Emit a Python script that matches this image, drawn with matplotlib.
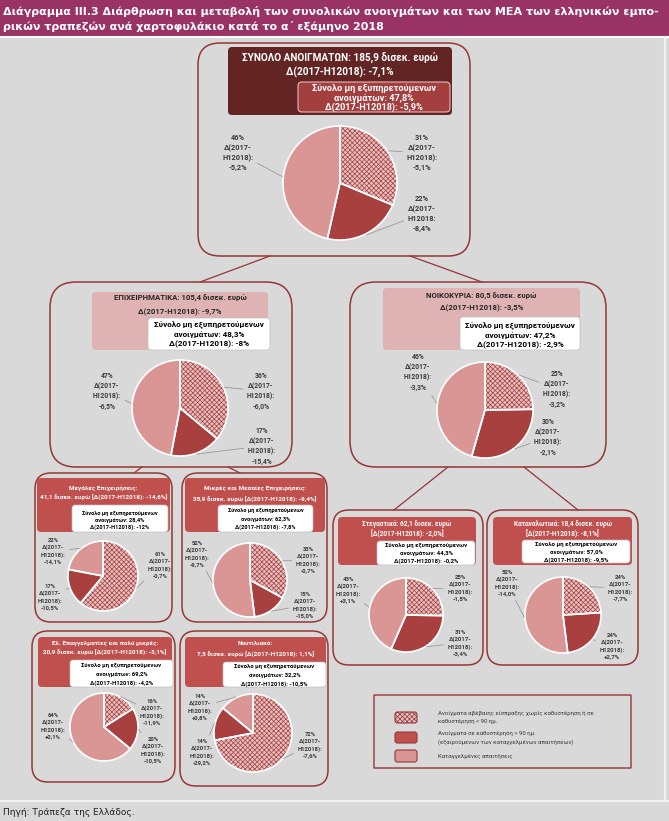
import matplotlib.pyplot as plt
from matplotlib.patches import FancyBboxPatch, Rectangle
import numpy as np

plt.rcParams['font.family'] = ['Roboto', 'DejaVu Sans']
plt.rcParams['hatch.linewidth'] = 0.5

W, H = 669, 821

# ---- data ----
pie_names = ['Σύνολο', 'Επιχειρηματικά', 'Νοικοκυριά', 'Μεγάλες', 'ΜΜΕ',
             'Στεγαστικά', 'Καταναλωτικά', 'Ελ. Επαγγελματίες', 'Ναυτιλιακό']
share_unlikely = [31, 36, 25, 61, 33, 25, 24, 16, 72]   # hatched
share_past_due = [22, 17, 30, 17, 15, 31, 24, 20, 14]   # dark red
share_denounced = [46, 47, 46, 22, 52, 43, 52, 64, 14]  # light pink
chg_unlikely = ['-5,1%', '-6,0%', '-3,2%', '-0,7%', '-0,7%', '-1,5%', '-7,7%', '-11,9%', '-7,6%']
chg_past_due = ['-8,4%', '-15,4%', '-2,1%', '-10,5%', '-15,0%', '-3,4%', '+2,7%', '-10,5%', '-29,2%']
chg_denounced = ['-5,2%', '-6,5%', '-3,3%', '-14,1%', '-9,7%', '+3,1%', '-14,0%', '+0,1%', '+0,8%']

header_lines = [
    ['ΣΥΝΟΛΟ ΑΝΟΙΓΜΑΤΩΝ: 185,9 δισεκ. ευρώ', 'Δ(2017-H12018): -7,1%'],
    ['ΕΠΙΧΕΙΡΗΜΑΤΙΚΑ: 105,4 δισεκ. ευρώ', 'Δ(2017-H12018): -9,7%'],
    ['ΝΟΙΚΟΚΥΡΙΑ: 80,5 δισεκ. ευρώ', 'Δ(2017-H12018): -3,5%'],
    ['Μεγάλες Επιχειρήσεις:', '41,1 δισεκ. ευρώ [Δ(2017-H12018): -14,6%]'],
    ['Μικρές και Μεσαίες Επιχειρήσεις:', '35,9 δισεκ. ευρώ [Δ(2017-H12018): -9,4%]'],
    ['Στεγαστικά: 62,1 δισεκ. ευρώ', '[Δ(2017-H12018): -2,0%]'],
    ['Καταναλωτικά: 18,4 δισεκ. ευρώ', '[Δ(2017-H12018): -8,1%]'],
    ['Ελ. Επαγγελματίες και πολύ μικρές:', '20,9 δισεκ. ευρώ [Δ(2017-H12018): -3,1%]'],
    ['Ναυτιλιακό:', '7,5 δισεκ. ευρώ [Δ(2017-H12018): 1,1%]'],
]
npe_share = ['47,8%', '48,3%', '47,2%', '28,4%', '62,3%', '44,3%', '57,0%', '69,2%', '32,2%']
npe_change = ['-5,9%', '-8%', '-2,9%', '-12%', '-7,8%', '-0,2%', '-9,5%', '-4,2%', '-10,5%']

legend_labels = ['Ανοίγματα αβέβαιης είσπραξης χωρίς καθυστέρηση ή σε\nκαθυστέρηση < 90 ημ.',
                 'Ανοίγματα σε καθυστέρηση > 90 ημ.\n(εξαιρούμενων των καταγγελμένων απαιτήσεων)',
                 'Καταγγελμένες απαιτήσεις']

# ---- layout (pixels, y from top) ----
outer_box = [(198, 43, 470, 256), (50, 282, 292, 467), (350, 282, 606, 467),
             (35, 473, 172, 622), (182, 473, 327, 622), (333, 510, 483, 665),
             (487, 510, 638, 665), (32, 631, 175, 782), (180, 631, 328, 786)]
head_box = [(228, 47, 452, 115), (92, 292, 268, 350), (383, 288, 580, 350),
            (37, 478, 170, 532), (185, 478, 325, 532), (338, 517, 476, 565),
            (493, 517, 632, 565), (38, 637, 172, 687), (185, 637, 326, 687)]
inner_box = [(298, 82, 450, 112), (148, 318, 270, 350), (460, 317, 580, 350),
             (72, 505, 168, 532), (218, 505, 313, 532), (377, 541, 475, 565),
             (522, 540, 630, 563), (70, 660, 173, 687), (223, 662, 326, 687)]
head_y = [(57, 72), (298, 312), (296, 308), (489, 498), (489, 500),
          (524, 534), (524, 534), (643, 653), (643, 655)]
inner_y = [(88, 98, 107), (325, 335, 344), (326, 336, 345), (513, 520, 527), (510, 519, 527),
           (545, 553, 561), (544, 552, 560), (665, 674, 683), (666, 675, 684)]
head_fs = [7.2, 5.6, 5.6, 4.6, 4.6, 4.7, 4.7, 4.6, 4.6]
inner_fs = [6.6, 5.9, 5.9, 4.1, 4.1, 4.3, 4.3, 4.2, 4.2]
pie_center = [(340, 183), (180, 408), (485, 410), (103, 576), (250, 580),
              (406, 615), (563, 615), (104, 727), (253, 733)]
pie_radius = [57, 48, 48, 35, 37, 37, 38, 34, 39]
label_pos = [
    [(422, 153), (422, 214), (238, 153)],
    [(261, 391), (262, 446), (107, 391)],
    [(557, 389), (548, 437), (418, 372)],
    [(160, 565), (50, 597), (53, 551)],
    [(308, 560), (305, 605), (197, 554)],
    [(460, 588), (460, 643), (348, 590)],
    [(620, 588), (612, 646), (507, 583)],
    [(152, 712), (153, 750), (53, 726)],
    [(310, 745), (202, 752), (200, 707)],
]
label_fs = [5.3, 4.9, 4.9, 4.2, 4.2, 4.3, 4.3, 4.2, 4.2]
label_ls = [1.35, 1.37, 1.37, 1.38, 1.38, 1.38, 1.38, 1.38, 1.38]
level = [0, 1, 1, 2, 2, 2, 2, 2, 2]

BG = '#d9d9d9'
TITLE_BG = '#993366'
OUTLINE = '#953735'
HEAD_COL = ['#632523', '#dfb3b3', '#dfb3b3'] + ['#c0504d'] * 6
DARK = '#a8403f'
LIGHT = '#d99694'
HATCH_BASE = '#e6c0c0'
HATCH_COL = '#a8403f'
TXT = '#3a3a3a'

fig = plt.figure(figsize=(W / 100, H / 100), dpi=100, facecolor=BG)
ax = fig.add_axes([0, 0, 1, 1])


def Y(y):
    return H - y


def rbox(b, fc, ec, lw, r):
    x0, y0, x1, y1 = b
    ax.add_patch(FancyBboxPatch((x0, Y(y1)), x1 - x0, y1 - y0,
                                boxstyle=f'round,pad=0,rounding_size={r}',
                                fc=fc, ec=ec, lw=lw, zorder=1))


# title bar and frame
ax.add_patch(Rectangle((0, Y(36)), W, 36, fc=TITLE_BG, ec='none', zorder=0))
title_font = dict(color='white', fontsize=8.0, fontweight='bold', va='center', ha='left',
                  family='DejaVu Sans')
ax.text(3, Y(11), 'Διάγραμμα ΙΙΙ.3 Διάρθρωση και μεταβολή των συνολικών ανοιγμάτων και των ΜΕΑ των ελληνικών εμπο-',
        **title_font)
ax.text(3, Y(26), 'ρικών τραπεζών ανά χαρτοφυλάκιο κατά το α΄ εξάμηνο 2018', **title_font)
ax.plot([0, W], [Y(37), Y(37)], color='white', lw=1.5)
ax.plot([0, W], [Y(801), Y(801)], color='#f2f2f2', lw=1.5)
ax.plot([665, 665], [Y(37), Y(801)], color='#f2f2f2', lw=1.5)
ax.text(3, Y(812), 'Πηγή: Τράπεζα της Ελλάδος.', color='#202020', fontsize=6.5, va='center', ha='left',
        family='DejaVu Sans')

# connectors
for (xa, ya, xb, yb) in [(270, 256, 200, 282), (410, 256, 482, 282),
                         (142, 467, 134, 473), (228, 467, 240, 473),
                         (448, 467, 394, 510), (524, 467, 578, 510)]:
    ax.plot([xa, xb], [Y(ya), Y(yb)], color=OUTLINE, lw=0.9, zorder=1)

for i in range(len(pie_names)):
    lv = level[i]
    rbox(outer_box[i], 'none', OUTLINE, 1.1, [22, 26, 26, 16, 16, 16, 16, 16, 16][i])
    rbox(head_box[i], HEAD_COL[i], 'none', 0, 4)
    if lv == 0:
        rbox(inner_box[i], '#a33f3f', '#e6b9b8', 0.8, 4)
        hc, ic = 'white', 'white'
    else:
        rbox(inner_box[i], 'white', '#bfbfbf', 0.5, 3)
        hc = '#262626' if lv == 1 else 'white'
        ic = 'black'
    hx = (head_box[i][0] + head_box[i][2]) / 2
    for txt, yy in zip(header_lines[i], head_y[i]):
        ax.text(hx, Y(yy), txt, color=hc, fontsize=head_fs[i], fontweight='bold',
                ha='center', va='center', zorder=3)
    ix = (inner_box[i][0] + inner_box[i][2]) / 2
    inner_txt = ['Σύνολο μη εξυπηρετούμενων', f'ανοιγμάτων: {npe_share[i]}',
                 f'Δ(2017-H12018): {npe_change[i]}']
    for txt, yy in zip(inner_txt, inner_y[i]):
        ax.text(ix, Y(yy), txt, color=ic, fontsize=inner_fs[i], fontweight='bold',
                ha='center', va='center', zorder=3)

    # pie
    vals = [share_unlikely[i], share_past_due[i], share_denounced[i]]
    cx, cy = pie_center[i][0], Y(pie_center[i][1])
    r = pie_radius[i]
    ex = [0.04, 0.04, 0.04]
    wedges, _ = ax.pie(vals, center=(cx, cy), radius=r, startangle=90, counterclock=False,
                       colors=[HATCH_BASE, DARK, LIGHT], explode=ex,
                       wedgeprops=dict(lw=0, ec=HATCH_COL))
    wedges[0].set_hatch('xxxxxxx')
    for w in wedges:
        w.set_zorder(2)
    outl, _ = ax.pie(vals, center=(cx, cy), radius=r, startangle=90, counterclock=False,
                     colors=['none'] * 3, explode=ex, wedgeprops=dict(lw=1.2, ec='white'))
    for w in outl:
        w.set_zorder(2.1)

    # labels
    tot = sum(vals)
    cum = 0
    chg = [chg_unlikely[i], chg_past_due[i], chg_denounced[i]]
    for j, v in enumerate(vals):
        ang = np.deg2rad(90 - 360 * (cum + v / 2) / tot)
        cum += v
        px = cx + r * 1.02 * np.cos(ang)
        py = cy + r * 1.02 * np.sin(ang)
        mid = 'H12018:' if (i == 0 and j == 1) else 'H12018):'
        lx, ly = label_pos[i][j]
        ax.annotate(f'{v}%\nΔ(2017-\n{mid}\n{chg[j]}', xy=(px, py), xytext=(lx, Y(ly)),
                    ha='center', va='center', fontsize=label_fs[i], fontweight='bold', color=TXT,
                    linespacing=label_ls[i], zorder=3,
                    arrowprops=dict(arrowstyle='-', color='#8c8c8c', lw=0.5, shrinkA=1, shrinkB=0))

# legend
rbox((374, 695, 631, 768), 'none', OUTLINE, 1.0, 0)
sw = [(395, 712, 417, 723), (395, 732, 417, 743), (395, 750, 417, 762)]
sw_col = [HATCH_BASE, '#c0504d', LIGHT]
for k, b in enumerate(sw):
    x0, y0, x1, y1 = b
    p = FancyBboxPatch((x0, Y(y1)), x1 - x0, y1 - y0, boxstyle='round,pad=0,rounding_size=2.5',
                       fc=sw_col[k], ec=OUTLINE, lw=0.8, zorder=2)
    if k == 0:
        p.set_hatch('xxxxxxx')
    ax.add_patch(p)
for txt, yy in zip(legend_labels, [717.5, 738, 756]):
    ax.text(438, Y(yy), txt, color=TXT, fontsize=4.3, ha='left', va='center', linespacing=1.7)

ax.set_xlim(0, W)
ax.set_ylim(0, H)
ax.set_aspect('auto')
ax.axis('off')
fig.savefig('out.png', dpi=100, facecolor=BG)
